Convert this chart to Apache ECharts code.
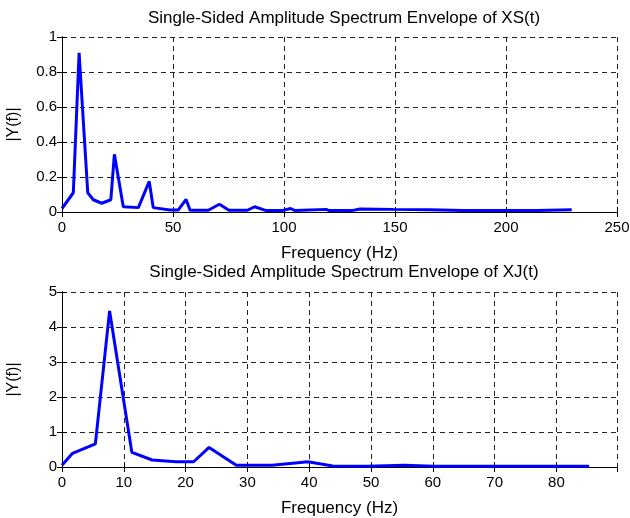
<html>
<head>
<meta charset="utf-8" />
<title>Spectrum envelope</title>
<script src="https://cdn.jsdelivr.net/npm/echarts@6/dist/echarts.min.js"></script>
<style type="text/css">
html, body { margin: 0; padding: 0; background: #fff; }
#echarts { width: 630px; height: 518px; }
</style>
</head>
<body>
<div id="echarts"></div>
<script type="text/javascript">
// XS(t) envelope spectrum
var xsFreq = [0, 5.1, 7.7, 11.6, 14.1, 17.9, 22, 23.6, 27.6, 34.4, 39.3, 41.1, 48.6, 52.4, 55.9, 57.7, 65.9, 70.9, 75.2, 83.5, 86.8, 92, 99, 103, 105, 119, 120.4, 130.5, 134.2, 149.2, 165.8, 180.8, 213.8, 229.6];
var xsAmp = [0.02, 0.11, 0.91, 0.11, 0.07, 0.05, 0.07, 0.33, 0.03, 0.025, 0.175, 0.025, 0.012, 0.012, 0.072, 0.01, 0.01, 0.044, 0.01, 0.01, 0.03, 0.008, 0.008, 0.02, 0.008, 0.015, 0.008, 0.008, 0.017, 0.015, 0.013, 0.008, 0.008, 0.013];

// XJ(t) envelope spectrum
var xjFreq = [0, 1.7, 5.4, 7.7, 11.3, 14.6, 18.4, 21.3, 23.8, 28.2, 34, 39.8, 43.8, 49.4, 55.4, 60.2, 85.3];
var xjAmp = [0.05, 0.39, 0.66, 4.46, 0.42, 0.2, 0.15, 0.15, 0.56, 0.05, 0.05, 0.15, 0.03, 0.02, 0.05, 0.02, 0.02];

var titles = ['Single-Sided Amplitude Spectrum Envelope of XS(t)', 'Single-Sided Amplitude Spectrum Envelope of XJ(t)'];
// min, max, interval, show label at max
var xRanges = [[0, 250, 50, true], [0, 89.8, 10, false]];
var yRanges = [[0, 1, 0.2], [0, 5, 1]];

var FONT = 'Liberation Sans, Arial, sans-serif';
var myChart = echarts.init(document.getElementById('echarts'));

function pairs(xs, ys) {
    var out = [];
    for (var i = 0; i < xs.length; i++) out.push([xs[i], ys[i]]);
    return out;
}

var lineDark = { color: '#000', width: 1 };
var gridLine = { show: true, lineStyle: { color: '#222', width: 1, type: [5, 4] } };

var xAxes = [], yAxes = [];
[0, 1].forEach(function (g) {
    var xr = xRanges[g], yr = yRanges[g];
    xAxes.push({
        type: 'value', gridIndex: g, min: xr[0], max: xr[1], interval: xr[2],
        name: 'Frequency (Hz)', nameLocation: 'middle', nameGap: 33,
        nameTextStyle: { fontFamily: FONT, fontSize: 17, color: '#000' },
        axisLine: { show: true, lineStyle: lineDark },
        axisTick: { show: true, inside: true, length: 5, lineStyle: lineDark },
        axisLabel: { fontFamily: FONT, fontSize: 15, color: '#000', margin: 8, showMaxLabel: xr[3] },
        splitLine: gridLine
    });
    xAxes.push({
        type: 'value', gridIndex: g, position: 'top', min: xr[0], max: xr[1], interval: xr[2],
        axisLine: { show: true, lineStyle: lineDark },
        axisTick: { show: true, inside: true, length: 5, lineStyle: lineDark },
        axisLabel: { show: false }, splitLine: { show: false }
    });
    yAxes.push({
        type: 'value', gridIndex: g, min: yr[0], max: yr[1], interval: yr[2],
        name: '|Y(f)|', nameLocation: 'middle', nameGap: 40, nameRotate: 90,
        nameTextStyle: { fontFamily: FONT, fontSize: 16, color: '#000' },
        axisLine: { show: true, lineStyle: lineDark },
        axisTick: { show: true, inside: true, length: 5, lineStyle: lineDark },
        axisLabel: { fontFamily: FONT, fontSize: 15, color: '#000', margin: 5 },
        splitLine: gridLine
    });
    yAxes.push({
        type: 'value', gridIndex: g, position: 'right', min: yr[0], max: yr[1], interval: yr[2],
        axisLine: { show: true, lineStyle: lineDark },
        axisTick: { show: true, inside: true, length: 5, lineStyle: lineDark },
        axisLabel: { show: false }, splitLine: { show: false }
    });
});

var option = {
    backgroundColor: '#fff',
    animation: false,
    title: [
        { text: titles[0], left: 339, top: 5, textAlign: 'center',
          textStyle: { fontFamily: FONT, fontSize: 17, fontWeight: 'normal', color: '#000' } },
        { text: titles[1], left: 339, top: 259, textAlign: 'center',
          textStyle: { fontFamily: FONT, fontSize: 17, fontWeight: 'normal', color: '#000' } }
    ],
    grid: [
        { left: 62, right: 13, top: 37, height: 175, outerBoundsMode: 'none' },
        { left: 62, right: 13, top: 292, height: 175, outerBoundsMode: 'none' }
    ],
    xAxis: xAxes,
    yAxis: yAxes,
    series: [
        { type: 'line', xAxisIndex: 0, yAxisIndex: 0, data: pairs(xsFreq, xsAmp),
          showSymbol: false, lineStyle: { color: '#0000ff', width: 3 }, itemStyle: { color: '#0000ff' } },
        { type: 'line', xAxisIndex: 2, yAxisIndex: 2, data: pairs(xjFreq, xjAmp),
          showSymbol: false, lineStyle: { color: '#0000ff', width: 3 }, itemStyle: { color: '#0000ff' } }
    ]
};

myChart.setOption(option);
</script>
</body>
</html>
